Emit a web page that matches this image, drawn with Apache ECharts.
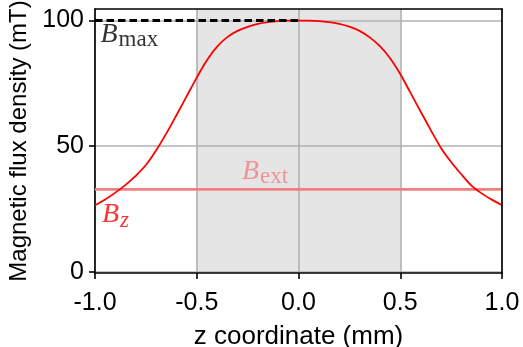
<!DOCTYPE html>
<html>
<head>
<meta charset="utf-8">
<script src="https://cdn.jsdelivr.net/npm/echarts@6/dist/echarts.min.js"></script>
<style>html,body{margin:0;padding:0;background:#fff;}#c{width:523px;height:347px;}</style>
</head>
<body>
<div id="c"></div>
<script>
// z coordinate (mm)
var zValues = [-1.00,-0.95,-0.90,-0.85,-0.80,-0.75,-0.70,-0.65,-0.60,-0.55,-0.50,-0.45,-0.40,-0.35,-0.30,-0.25,-0.20,-0.15,-0.10,-0.05,
  0.00,0.05,0.10,0.15,0.20,0.25,0.30,0.35,0.40,0.45,0.50,0.55,0.60,0.65,0.70,0.75,0.80,0.85,0.90,0.95,1.00];
// B_z (mT)
var bzValues = [26.5,28.8,31.5,34.6,38.2,42.5,48.3,55.0,62.3,69.8,77.3,84.2,89.6,93.4,95.9,97.5,98.7,99.4,99.8,99.95,
  100.0,99.95,99.8,99.4,98.7,97.6,95.9,93.3,89.8,85.0,78.7,71.3,63.8,56.4,49.3,43.7,38.8,34.3,31.2,28.7,26.5];
var bExt = 32.8;
var bMax = 100;
var shadedRange = [-0.5, 0.5];
var xTicks = [-1.0, -0.5, 0.0, 0.5, 1.0];
var yTicks = [0, 50, 100];
var xLimits = [-1.0, 1.0];
var yLimits = [-0.5, 104.6];
// label anchors [z, B]
var bMaxLabelPos = [-0.973, 93.6];
var bExtLabelPos = [-0.278, 39.1];
var bzLabelPos = [-0.966, 21.8];

var chart = echarts.init(document.getElementById('c'));
var sansFont = 'Liberation Sans, Arial, sans-serif';
var serifFont = 'Liberation Serif, Times New Roman, serif';

function mathLabel(pos, main, sub, color, subItalic) {
  return {
    type: 'scatter', z: 6, silent: true,
    symbolSize: 1, itemStyle: {color: 'rgba(0,0,0,0)'},
    data: [pos],
    label: {
      show: true, position: 'inside', align: 'left', verticalAlign: 'middle',
      formatter: '{b|' + main + '}{s|' + sub + '}',
      rich: {
        b: {fontFamily: serifFont, fontStyle: 'italic', fontSize: 28, color: color, lineHeight: 32, verticalAlign: 'top'},
        s: {fontFamily: serifFont, fontStyle: subItalic ? 'italic' : 'normal', fontSize: 23, color: color, lineHeight: 24, padding: [8, 0, 0, 1], verticalAlign: 'top'}
      }
    }
  };
}

var curveData = zValues.map(function (z, i) { return [z, bzValues[i]]; });

var option = {
  animation: false,
  backgroundColor: '#fff',
  grid: {left: 95, right: 21, top: 9, bottom: 74, outerBoundsMode: 'none', containLabel: false},
  xAxis: [{
    type: 'value', min: xLimits[0], max: xLimits[1], interval: 0.5, z: 2,
    name: 'z coordinate (mm)', nameLocation: 'middle', nameGap: 51,
    nameTextStyle: {fontFamily: sansFont, fontSize: 26, color: '#000'},
    axisLine: {show: true, onZero: false, lineStyle: {color: '#000', width: 1.6}},
    axisTick: {show: true, inside: false, length: 6, lineStyle: {color: '#000', width: 1.6}},
    axisLabel: {fontFamily: sansFont, fontSize: 25, color: '#000', margin: 18,
      formatter: function (v) { return v.toFixed(1); }},
    splitLine: {show: true, lineStyle: {color: '#b0b0b0', width: 1.6}}
  }, {
    type: 'value', position: 'top', min: xLimits[0], max: xLimits[1], z: 10,
    axisLine: {show: true, onZero: false, lineStyle: {color: '#000', width: 1.6}},
    axisTick: {show: false}, axisLabel: {show: false}, splitLine: {show: false}
  }],
  yAxis: [{
    type: 'value', min: yLimits[0], max: yLimits[1], z: 2,
    name: 'Magnetic flux density (mT)', nameLocation: 'middle', nameGap: 51, nameRotate: 90,
    nameTextStyle: {fontFamily: sansFont, fontSize: 24, color: '#000'},
    axisLine: {show: true, onZero: false, lineStyle: {color: '#000', width: 1.6}},
    axisTick: {show: true, inside: false, length: 6, customValues: yTicks, lineStyle: {color: '#000', width: 1.6}},
    axisLabel: {fontFamily: sansFont, fontSize: 25, color: '#000', margin: 11, customValues: yTicks},
    splitLine: {show: true, lineStyle: {color: '#b0b0b0', width: 1.6}}
  }, {
    type: 'value', position: 'right', min: yLimits[0], max: yLimits[1], z: 10,
    axisLine: {show: true, onZero: false, lineStyle: {color: '#000', width: 1.6}},
    axisTick: {show: false}, axisLabel: {show: false}, splitLine: {show: false}
  }],
  series: [
    {
      type: 'line', z: 1, silent: true, data: [], symbol: 'none',
      markArea: {silent: true, itemStyle: {color: '#e5e5e5'},
        data: [[{xAxis: shadedRange[0], yAxis: yLimits[0]}, {xAxis: shadedRange[1], yAxis: yLimits[1]}]]}
    },
    {
      type: 'line', z: 3, silent: true, symbol: 'none',
      data: [[xLimits[0], bExt], [xLimits[1], bExt]],
      lineStyle: {color: '#f08080', width: 2.8}
    },
    {
      type: 'line', z: 4, silent: true, symbol: 'none', smooth: 0.3,
      data: curveData,
      lineStyle: {color: '#ff0000', width: 1.8}
    },
    {
      type: 'line', z: 5, silent: true, symbol: 'none',
      data: [[xLimits[0], bMax], [0, bMax]],
      lineStyle: {color: '#000', width: 3, type: [7.5, 4]}
    },
    mathLabel(bMaxLabelPos, 'B', 'max', '#000', false),
    mathLabel(bExtLabelPos, 'B', 'ext', '#f08080', false),
    mathLabel(bzLabelPos, 'B', 'z', '#ff0000', true)
  ]
};
chart.setOption(option);
</script>
</body>
</html>
